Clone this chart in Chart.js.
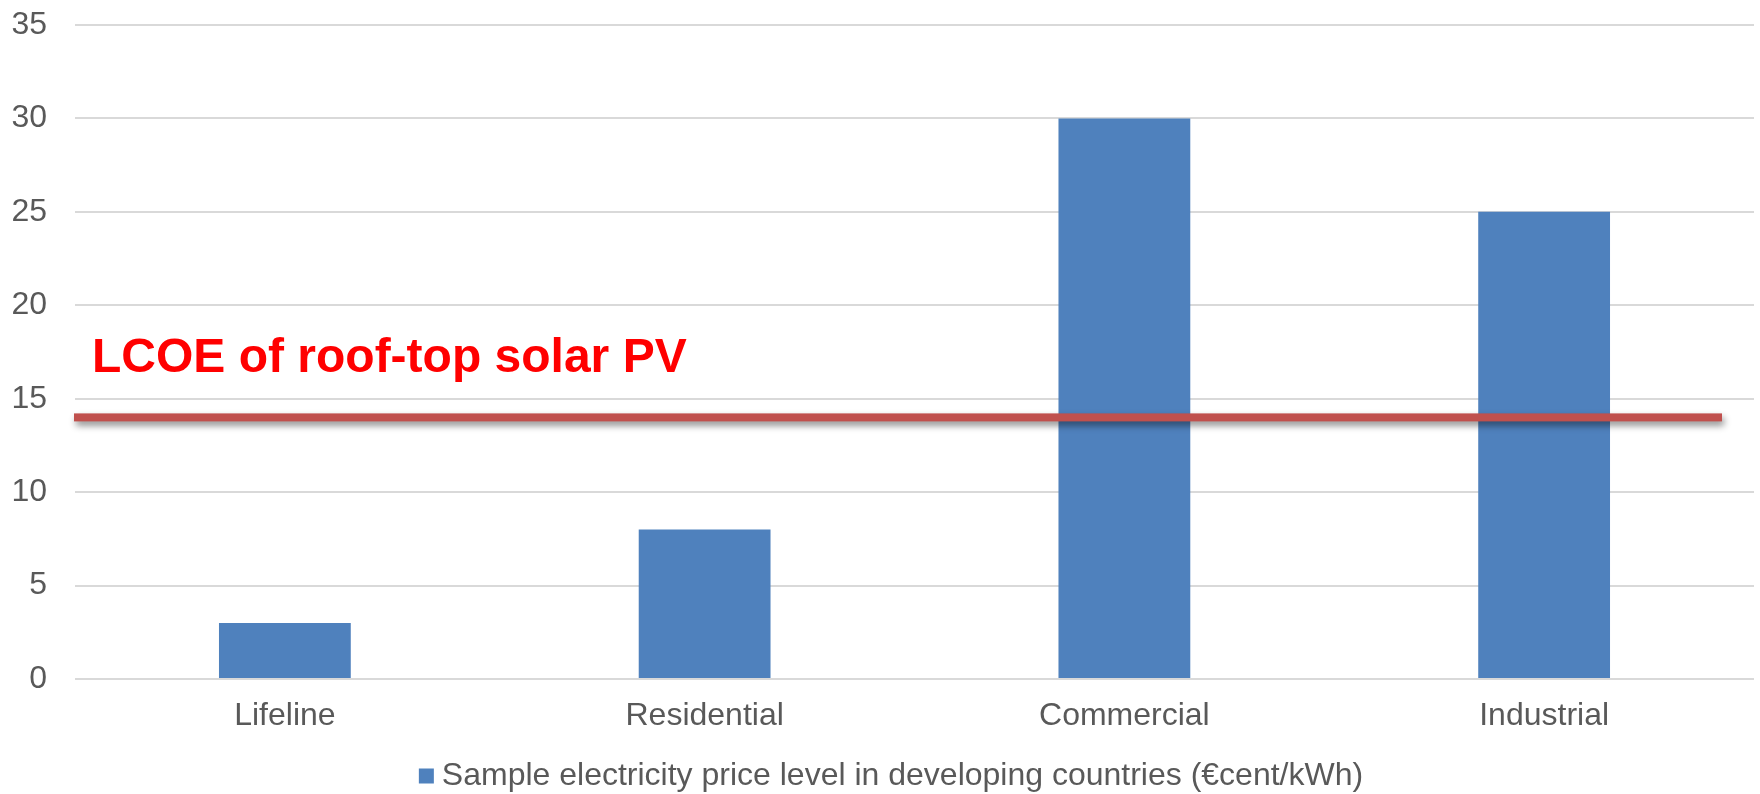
<!DOCTYPE html>
<html>
<head>
<meta charset="utf-8">
<script src="https://cdn.jsdelivr.net/npm/chart.js@4/dist/chart.umd.min.js"></script>
<style>
html,body{margin:0;padding:0;background:#fff;}
#wrap{width:1760px;height:794px;position:relative;}
</style>
</head>
<body>
<div id="wrap"><canvas id="c" width="1760" height="794"></canvas></div>
<script>
const categories = ["Lifeline", "Residential", "Commercial", "Industrial"];
const priceValues = [3, 8, 30, 25];
const seriesLabel = "Sample electricity price level in developing countries (€cent/kWh)";
const lcoeValue = 14;
const lcoeLabel = "LCOE of roof-top solar PV";
const yTicks = [0, 5, 10, 15, 20, 25, 30, 35];

const FONT = "'Liberation Sans', Arial, sans-serif";
const BAR_COLOR = '#4f81bd';

const lcoePlugin = {
  id: 'lcoe',
  afterDatasetsDraw(chart) {
    const ctx = chart.ctx;
    const area = chart.chartArea;
    const y = chart.scales.y.getPixelForValue(lcoeValue);
    ctx.save();
    ctx.shadowColor = 'rgba(0,0,0,0.45)';
    ctx.shadowBlur = 7;
    ctx.shadowOffsetX = 2;
    ctx.shadowOffsetY = 4;
    ctx.fillStyle = '#c0504d';
    ctx.fillRect(area.left - 1, y - 4, (area.right - 32) - (area.left - 1), 8);
    ctx.restore();
    ctx.save();
    ctx.fillStyle = '#ff0000';
    ctx.font = "bold 48px " + FONT;
    ctx.textBaseline = 'alphabetic';
    ctx.textAlign = 'left';
    ctx.fillText(lcoeLabel, area.left + 17, y - 45);
    ctx.restore();
  },
  afterDraw(chart) {
    // legend (series label with colour swatch), drawn below the axis
    const ctx = chart.ctx;
    const ds = chart.data.datasets[0];
    ctx.save();
    ctx.font = "32px " + FONT;
    const w = ctx.measureText(ds.label).width;
    const total = 15 + 8 + w;
    const left = (chart.width - total) / 2 + 11;
    const cy = chart.height - 18;
    ctx.fillStyle = ds.backgroundColor;
    ctx.fillRect(left, cy - 7.5, 15, 15);
    ctx.fillStyle = '#595959';
    ctx.textBaseline = 'middle';
    ctx.textAlign = 'left';
    ctx.fillText(ds.label, left + 23, cy);
    ctx.restore();
  }
};

new Chart(document.getElementById('c'), {
  type: 'bar',
  data: {
    labels: categories,
    datasets: [{
      label: seriesLabel,
      data: priceValues,
      backgroundColor: BAR_COLOR,
      borderWidth: 0,
      categoryPercentage: 0.314,
      barPercentage: 1.0
    }]
  },
  options: {
    responsive: false,
    animation: false,
    devicePixelRatio: 1,
    layout: { padding: { left: 11, right: 6, top: 25, bottom: 45 } },
    plugins: {
      tooltip: { enabled: false },
      legend: { display: false }
    },
    scales: {
      x: {
        grid: { display: false, drawTicks: false },
        border: { display: false },
        ticks: {
          color: '#595959',
          font: { family: FONT, size: 32 },
          padding: 18
        },
        afterFit(scale) { scale.height = 70; }
      },
      y: {
        min: 0,
        max: 35,
        afterBuildTicks(scale) { scale.ticks = yTicks.map(v => ({ value: v })); },
        grid: { color: '#d9d9d9', lineWidth: 2, drawTicks: false },
        border: { display: false },
        ticks: {
          color: '#595959',
          font: { family: FONT, size: 32 },
          padding: 28
        },
        afterFit(scale) { scale.width = 64; scale.paddingTop = 0; scale.paddingBottom = 0; }
      }
    }
  },
  plugins: [lcoePlugin]
});
</script>
</body>
</html>
